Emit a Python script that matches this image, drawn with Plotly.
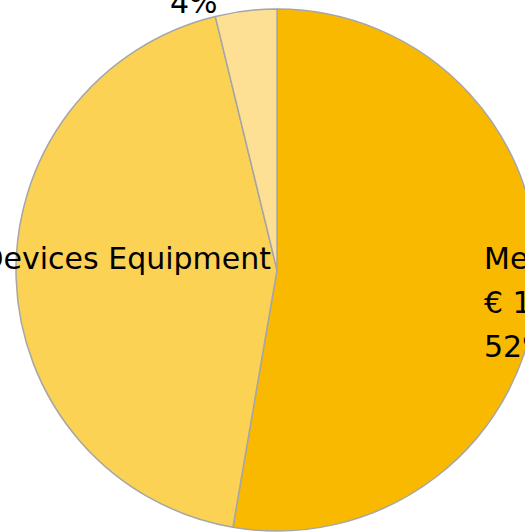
import plotly.graph_objects as go

categories = ["Medical", "Devices Equipment", "Other"]
values = [52.7, 43.5, 3.8]
colors = ["#F9B900", "#FCD255", "#FEE095"]

right_label_lines = ["Medical Supplies", "€ 1.250.000", "52%"]
left_label = "Medical Devices Equipment"
small_label = "4%"

W, H = 560, 532

def px(x):
    return x / W

def py(y):
    return 1 - y / H

fig = go.Figure(go.Pie(
    labels=categories,
    values=values,
    sort=False,
    direction="clockwise",
    rotation=0,
    marker=dict(colors=colors, line=dict(color="#A6A6A6", width=1.5)),
    textinfo="none",
    hoverinfo="label+percent",
    showlegend=False,
    domain=dict(x=[16 / W, 538 / W], y=[1 - 531 / H, 1 - 9 / H]),
))

font = dict(family="DejaVu Sans", size=30, color="#000000")
ann = []
for i, t in enumerate(right_label_lines):
    ann.append(dict(text=t, x=px(482), y=py(258 + 44 * i), xref="paper", yref="paper",
                    xanchor="left", yanchor="middle", showarrow=False, font=font, align="left"))
ann.append(dict(text=left_label, x=px(273), y=py(258), xref="paper", yref="paper",
                xanchor="right", yanchor="middle", showarrow=False, font=font))
ann.append(dict(text=small_label, x=px(193.5), y=py(3), xref="paper", yref="paper",
                xanchor="center", yanchor="middle", showarrow=False, font=font))

fig.update_layout(
    width=W, height=H,
    margin=dict(l=0, r=0, t=0, b=0),
    paper_bgcolor="white",
    plot_bgcolor="white",
    annotations=ann,
)

fig.write_html("out.html", config={"displayModeBar": False},
               post_script="document.body.style.margin='0';document.body.style.overflow='hidden';document.documentElement.style.overflow='hidden';")
